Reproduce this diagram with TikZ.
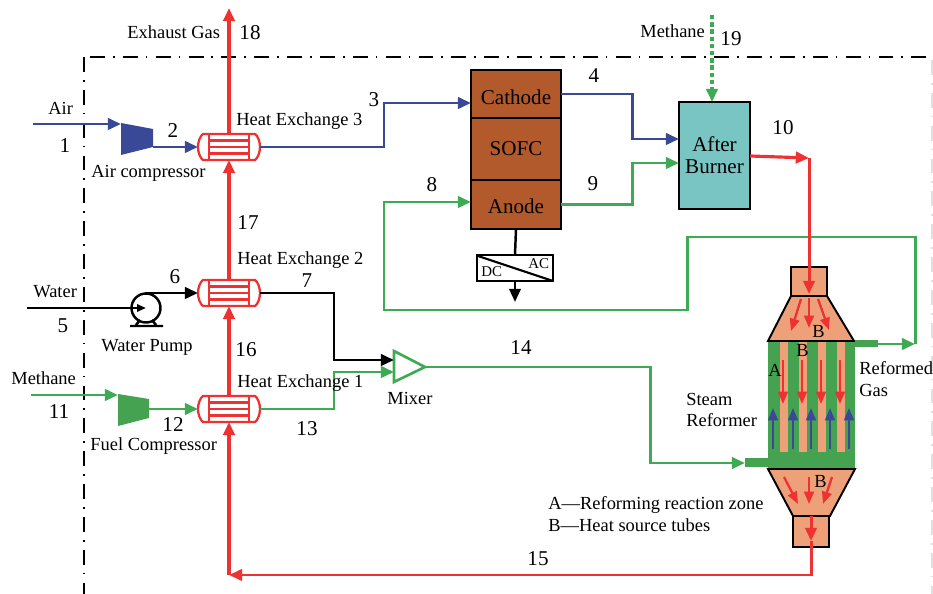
\documentclass[tikz,border=0pt]{standalone}
\usepackage{fontspec}
\setmainfont{Liberation Serif}
\usepackage{tikz}
\usetikzlibrary{arrows.meta}
\definecolor{airblue}{RGB}{58,72,152}
\definecolor{gasgreen}{RGB}{62,170,84}
\definecolor{hotred}{RGB}{238,50,50}
\definecolor{zonegreen}{RGB}{68,162,80}
\definecolor{tubesalmon}{RGB}{238,160,120}
\definecolor{cellbrown}{RGB}{178,90,44}
\definecolor{burnerteal}{RGB}{120,197,195}
\tikzset{
    flow/.style={line width=1.7pt,line join=miter},
    hotflow/.style={line width=1.8pt,line join=miter},
    lbl/.style={font=\fontsize{10.5}{12}\selectfont,inner sep=0pt,anchor=base west},
    numlbl/.style={font=\fontsize{12}{14}\selectfont,inner sep=0pt},
    cellbox/.style={draw=black,line width=1.5pt,fill=cellbrown,minimum width=1.8cm,inner sep=0pt,outer sep=0pt,font=\fontsize{12}{14}\selectfont},
    neckbox/.style={draw=black,line width=1.1pt,fill=tubesalmon,minimum width=0.72cm,inner sep=0pt,outer sep=0pt},
    hxbox/.style={minimum width=1.24cm,minimum height=0.52cm,inner sep=0pt,outer sep=0pt},
    smallarrow/.style={line width=1.3pt,->,>={Triangle[length=7pt,width=5.5pt]}},
}
\newcommand{\hxbody}[1]{%
    \begin{scope}[shift={(#1.center)},hotred,line width=1.3pt]
        \draw[fill=white] (-26,-13) -- (26,-13) .. controls (29,-11) and (31,-5) .. (31,0) .. controls (31,5) and (29,11) .. (26,13) -- (-26,13) .. controls (-29,11) and (-31,5) .. (-31,0) .. controls (-31,-5) and (-29,-11) .. (-26,-13) -- cycle;
        \draw (-20,-13) rectangle (20,13);
        \foreach \yy in {-6.5,0,6.5}
            \draw (-20,\yy) -- (20,\yy);
    \end{scope}}
\begin{document}
\begin{tikzpicture}[x=0.02cm,y=-0.02cm,>={Triangle[length=7.5pt,width=6.5pt]}]
    \useasboundingbox (0,0) rectangle (933,594);
    % plant boundary
    \draw[line width=1.1pt,dash pattern=on 8.5pt off 4.5pt on 1pt off 4.7pt] (90,57) -- (933,57);
    \draw[line width=1.1pt,dash pattern=on 8.5pt off 4.5pt on 1pt off 4.7pt] (84,57) -- (84,594);
    \draw[black!12,line width=0.8pt,dash pattern=on 8.5pt off 4.5pt on 1pt off 4.7pt] (932,60) -- (932,594);

    % reformer
    \node[neckbox,minimum height=0.58cm] (topneck) at (809,281.5) {};
    \node[neckbox,minimum height=0.62cm] (botneck) at (811,531.5) {};
    \fill[zonegreen] (768,341) rectangle (855,469);
    \foreach \xx in {780,799,818,837}
        \fill[tubesalmon] (\xx,341) rectangle (\xx+8,452);
    \draw[line width=1.1pt,fill=tubesalmon] (791,296) -- (827,296) -- (854,341) -- (768,341) -- cycle;
    \draw[line width=1.1pt,fill=tubesalmon] (768,469) -- (855,469) -- (830,516) -- (793,516) -- cycle;
    \fill[zonegreen] (745,458) rectangle (768,467);
    \fill[zonegreen] (855,340) rectangle (878,347);
    \foreach \xx in {783,802,821,840}
        \draw[hotred,smallarrow] (\xx,360) -- (\xx,404);
    \foreach \xx in {773,793,811,830,849}
        \draw[airblue,smallarrow] (\xx,449) -- (\xx,408);
    \draw[hotred,smallarrow] (801,299) -- (791,331);
    \draw[hotred,smallarrow] (809,298) -- (809,328);
    \draw[hotred,smallarrow] (818,299) -- (829,330);
    \draw[hotred,smallarrow] (784,477) -- (798,504);
    \draw[hotred,smallarrow] (809,477) -- (809,504);
    \draw[hotred,smallarrow] (832,477) -- (823,504);

    % equipment
    \node[hxbox] (hx3) at (229,147) {};
    \node[hxbox] (hx2) at (229,293) {};
    \node[hxbox] (hx1) at (229,409) {};
    \hxbody{hx3}
    \hxbody{hx2}
    \hxbody{hx1}
    \fill[airblue] (121,123) -- (153,129) -- (153,147) -- (121,155) -- cycle;
    \fill[zonegreen] (118,394) -- (149,399) -- (149,418) -- (118,426) -- cycle;
    \node[cellbox,minimum height=0.96cm,text height=12pt,text depth=0pt] (cathode) at (516,94) {Cathode};
    \node[cellbox,minimum height=1.24cm] (sofc) at (516,149) {SOFC};
    \node[cellbox,minimum height=0.98cm,text height=10.5pt,text depth=0pt] (anode) at (516,204.5) {Anode};
    \node[draw=black,line width=1.6pt,fill=burnerteal,minimum width=1.42cm,minimum height=2.14cm,inner sep=0pt,outer sep=0pt,align=center,font=\fontsize{12}{12.5}\selectfont] (burner) at (714.5,155.5) {After\\Burner};
    \node[draw=black,line width=1.4pt,fill=white,minimum width=1.52cm,minimum height=0.52cm,inner sep=0pt,outer sep=0pt] (inverter) at (515,268) {};
    \draw[line width=1.2pt] (478,256) -- (553,281);
    \node[circle,draw=black,line width=1.4pt,minimum size=0.58cm,inner sep=0pt,outer sep=0pt] (pump) at (146,308) {};
    \draw[line width=1.4pt] (130,326) -- (163,326) (136,325) -- (140,320) (156,325) -- (152,320);
    \draw[gasgreen,line width=1.5pt,fill=white] (394,351) -- (425,367) -- (394,382) -- cycle;

    % ports and bends
    \coordinate (mixertip) at (425,367);
    \coordinate (airstart) at (33,124);
    \coordinate (airin) at (121,124);
    \coordinate (airout) at (153,147);
    \coordinate (waterstart) at (27,308);
    \coordinate (pumpout) at (145,293);
    \coordinate (methstart) at (31,395);
    \coordinate (methin) at (118,395);
    \coordinate (methout) at (149,409);
    \coordinate (exhaust) at (229,8);
    \coordinate (cathodein) at (471,103);
    \coordinate (anodein) at (471,202);
    \coordinate (burnerair) at (679,139);
    \coordinate (burnergas) at (679,163);
    \coordinate (fuelstart) at (712,15);
    \coordinate (burnerout) at (750,156);
    \coordinate (reformtop) at (809,158);
    \coordinate (reformin) at (745,463);
    \coordinate (reformout) at (878,344);
    \coordinate (returnbend) at (915,344);
    \coordinate (mixwater) at (394,360);
    \coordinate (mixgas) at (394,372);

    % air and cathode side
    \draw[airblue,flow,->] (airstart) -- (airin);
    \draw[airblue,flow,->] (airout) -- (hx3.west);
    \draw[airblue,flow,->] (hx3.east) -- (384,147) -- (384,103) -- (cathodein);
    \draw[airblue,flow,->] (cathode.east) -- (632,94) -- (632,139) -- (burnerair);

    % water
    \draw[black,flow,->,>={Triangle[length=5pt,width=4pt]}] (waterstart) -- (pump.center);
    \draw[black,flow,->] (pumpout) -- (hx2.west);
    \draw[black,flow,->] (hx2.east) -- (334,293) -- (334,360) -- (mixwater);

    % methane and reformate
    \draw[gasgreen,flow,->] (methstart) -- (methin);
    \draw[gasgreen,flow,->] (methout) -- (hx1.west);
    \draw[gasgreen,flow,->] (hx1.east) -- (334,409) -- (334,372) -- (mixgas);
    \draw[gasgreen,flow,->] (mixertip) -- (650,367) -- (650,463) -- (reformin);
    \draw[gasgreen,flow,->] (reformout) -- (returnbend);
    \draw[gasgreen,flow,->] (returnbend) -- (915,237) -- (687,237) -- (687,310) -- (384,310) -- (384,202) -- (anodein);
    \draw[gasgreen,flow,->] (anode.east) -- (632,204.5) -- (632,163) -- (burnergas);
    \draw[gasgreen,line width=1.9pt,dash pattern=on 2.5pt off 1.6pt,->] (fuelstart) -- (burner.north -| fuelstart);

    % hot side
    \draw[hotred,hotflow,->] (burnerout) -- (reformtop);
    \draw[hotred,flow,->] (reformtop) -- (809,294);
    \draw[hotred,flow,->] (botneck.north) -- (811,541);
    \draw[hotred,flow] (811,541) -- (botneck.south);
    \draw[hotred,flow,->] (botneck.south) -- (811,575) -- (229,575);
    \draw[hotred,hotflow,->] (229,575) -- (hx1.south);
    \draw[hotred,hotflow,->] (hx1.north) -- (hx2.south);
    \draw[hotred,hotflow,->] (hx2.north) -- (hx3.south);
    \draw[hotred,hotflow,->] (hx3.north) -- (exhaust);

    % cell output
    \draw[line width=1.4pt] (anode.south) -- (inverter.north);
    \draw[line width=1.4pt,->] (inverter.south) -- ++(0,21);

    % stream numbers
    \foreach \nm/\xx/\yy in {1/65/146,2/173/131,3/374/100,4/594/76,5/63/326,6/175/277,7/307/281,8/432/185,9/593/184,10/783/128,11/59/412,12/173/425,13/307/429,14/521/348,15/538/559,16/246/350,17/248/223,18/250/33,19/731/39}
        \node[numlbl] (num\nm) at (\xx,\yy) {\nm};

    % text
    \node[lbl] (exhaustlbl) at (127,39) {Exhaust Gas};
    \node[lbl] (airlbl) at (48,115) {Air};
    \node[lbl] (aircomplbl) at (91,178) {Air compressor};
    \node[lbl] (hx3lbl) at (236,126) {Heat Exchange 3};
    \node[lbl] (hx2lbl) at (237,265) {Heat Exchange 2};
    \node[lbl] (hx1lbl) at (237,388) {Heat Exchange 1};
    \node[lbl] (waterlbl) at (33,298) {Water};
    \node[lbl] (pumplbl) at (101,352) {Water Pump};
    \node[lbl] (methlbl) at (11,385) {Methane};
    \node[lbl] (fuelcomplbl) at (90,450) {Fuel Compressor};
    \node[lbl] (mixerlbl) at (387,404) {Mixer};
    \node[lbl] (fuellbl) at (640,38) {Methane};
    \node[lbl] (steamlbl) at (686,405) {Steam};
    \node[lbl] (reformerlbl) at (686,426) {Reformer};
    \node[lbl] (reformedlbl) at (859,375) {Reformed};
    \node[lbl] (gaslbl) at (859,397) {Gas};
    \node[lbl] (legenda) at (548,509) {A---Reforming reaction zone};
    \node[lbl] (legendb) at (548,531) {B---Heat source tubes};
    \node[lbl] (zonea) at (768,377) {A};
    \node[lbl] (zoneb) at (796,357) {B};
    \node[lbl] (coneb) at (812,338) {B};
    \node[lbl] (lowerb) at (814,487) {B};
    \node[lbl,font=\fontsize{8.5}{10}\selectfont] (dclbl) at (481,277) {DC};
    \node[lbl,font=\fontsize{8.5}{10}\selectfont] (aclbl) at (528,269) {AC};
\end{tikzpicture}
\end{document}
